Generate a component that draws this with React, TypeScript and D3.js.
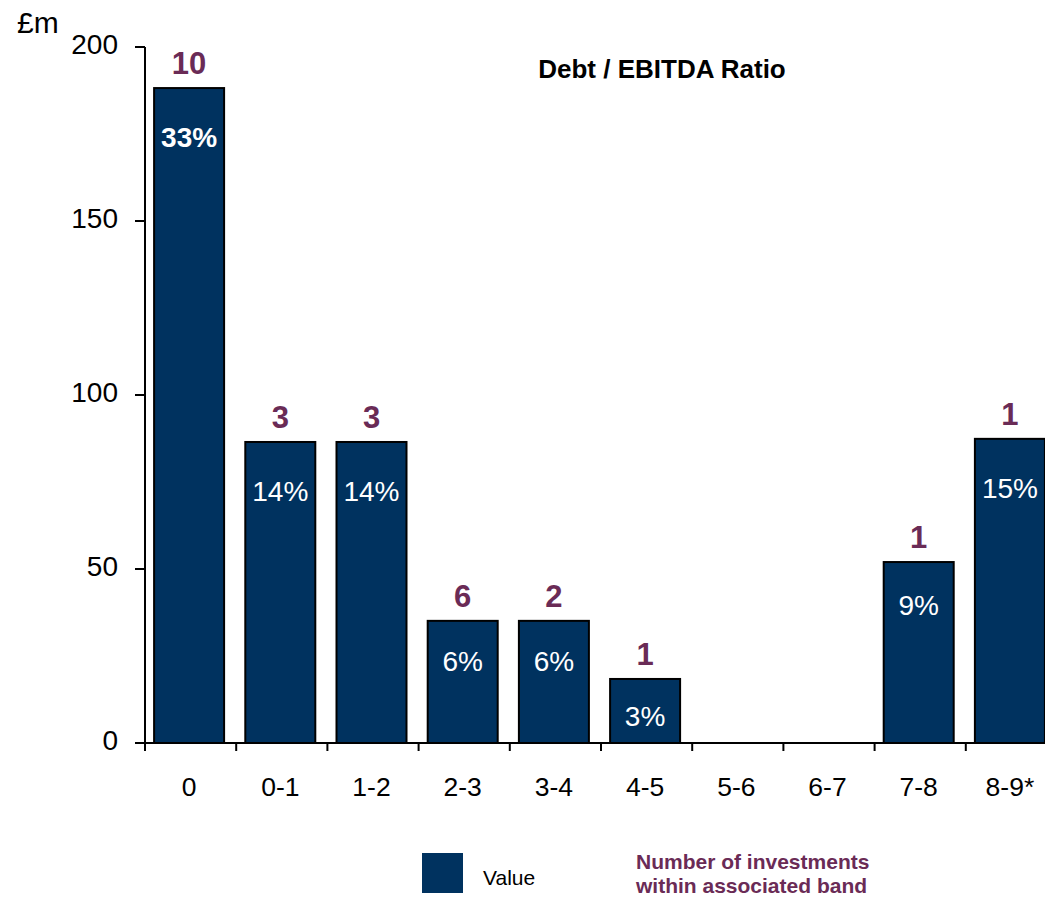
import React from "react";
import * as d3 from "d3";

const categories = ["0", "0-1", "1-2", "2-3", "3-4", "4-5", "5-6", "6-7", "7-8", "8-9*"];
const values = [188.2, 86.5, 86.5, 35.1, 35.1, 18.4, 0, 0, 52.0, 87.4];
const counts = ["10", "3", "3", "6", "2", "1", "", "", "1", "1"];
const shares = ["33%", "14%", "14%", "6%", "6%", "3%", "", "", "9%", "15%"];
const yTicks = [0, 50, 100, 150, 200];

const W = 1045;
const H = 897;
const NAVY = "#00325F";
const PURPLE = "#6A2B56";
const FONT = "'Liberation Sans', Arial, Helvetica, sans-serif";

export default function App() {
  const x = d3.scaleBand<string>().domain(categories).range([145, 1057]).paddingInner(0).paddingOuter(0);
  const y = d3.scaleLinear().domain([0, 200]).range([743, 47]);
  const step = x.step();
  const barW = 70;
  const y0 = y(0);
  const cx = (c: string) => (x(c) as number) + step / 2 - 1.5;

  return (
    <svg width={W} height={H} style={{ position: "absolute", left: 0, top: 0, fontFamily: FONT }}>
      <rect width={W} height={H} fill="#fff" />
      {/* bars */}
      {categories.map((c, i) =>
        values[i] > 0 ? (
          <rect
            key={c}
            x={cx(c) - barW / 2}
            y={y(values[i])}
            width={barW}
            height={y0 - y(values[i])}
            fill={NAVY}
            stroke="#000"
            strokeWidth={2}
          />
        ) : null
      )}
      {/* axes */}
      <line x1={145} x2={145} y1={y(200)} y2={y0} stroke="#000" strokeWidth={2} />
      {yTicks.map((t) => (
        <g key={t}>
          <line x1={135} x2={145} y1={y(t)} y2={y(t)} stroke="#000" strokeWidth={2} />
          <text x={118} y={y(t) + 7} textAnchor="end" fontSize={28} fill="#000">
            {t}
          </text>
        </g>
      ))}
      <line x1={145} x2={1057} y1={y0} y2={y0} stroke="#000" strokeWidth={2} />
      {categories.map((c) => (
        <line key={"t" + c} x1={x(c) as number} x2={x(c) as number} y1={y0} y2={y0 + 8} stroke="#000" strokeWidth={2} />
      ))}
      {categories.map((c) => (
        <text key={"l" + c} x={cx(c)} y={796} textAnchor="middle" fontSize={26.5} fill="#000">
          {c}
        </text>
      ))}
      <text x={17} y={33} fontSize={30} fill="#000">£m</text>
      {/* count labels */}
      {categories.map((c, i) =>
        counts[i] ? (
          <text
            key={"n" + c}
            x={cx(c)}
            y={y(values[i]) - 14}
            textAnchor="middle"
            fontSize={31}
            fontWeight="bold"
            fill={PURPLE}
          >
            {counts[i]}
          </text>
        ) : null
      )}
      {/* share labels */}
      {categories.map((c, i) => {
        if (!shares[i]) return null;
        const h = y0 - y(values[i]);
        return (
          <text
            key={"s" + c}
            x={cx(c)}
            y={y(values[i]) + 44 + Math.min(h, 300) * 0.05}
            textAnchor="middle"
            fontSize={28}
            fontWeight={i === 0 ? "bold" : "normal"}
            fill="#fff"
          >
            {shares[i]}
          </text>
        );
      })}
      <text x={662} y={78} textAnchor="middle" fontSize={26} fontWeight="bold" fill="#000">
        Debt / EBITDA Ratio
      </text>
      {/* legend */}
      <rect x={422} y={853} width={41} height={40} fill={NAVY} />
      <text x={483} y={885} fontSize={21} fill="#000">Value</text>
      <text x={636} y={869} fontSize={21} fontWeight="bold" fill={PURPLE}>Number of investments</text>
      <text x={636} y={893} fontSize={21} fontWeight="bold" fill={PURPLE}>within associated band</text>
    </svg>
  );
}
